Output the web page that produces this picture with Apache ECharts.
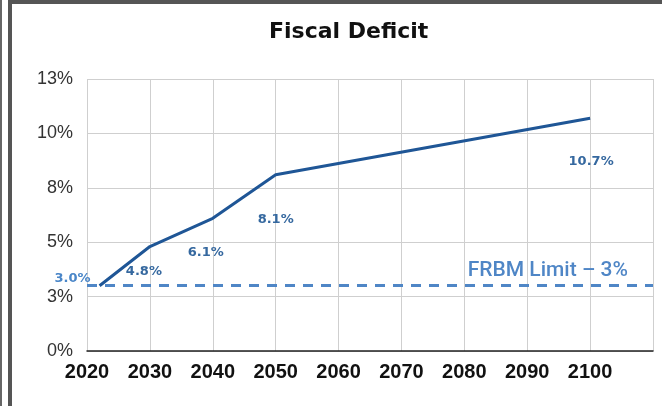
<!DOCTYPE html>
<html>
<head>
<meta charset="utf-8">
<script src="https://cdn.jsdelivr.net/npm/echarts@6/dist/echarts.min.js"></script>
<style>
  body { margin: 0; background: #fff; }
  #chart { width: 662px; height: 406px; }
</style>
</head>
<body>
<div id="chart"></div>
<script>
  // data
  const years = [2022, 2030, 2040, 2050, 2100];
  const deficit = [3.0, 4.8, 6.1, 8.1, 10.7];
  const frbmLimit = 3;
  const xTicks = [2020, 2030, 2040, 2050, 2060, 2070, 2080, 2090, 2100];

  // where each data label sits relative to its point
  const labelPlace = [
    { position: 'left', distance: 8, offset: [0, -7], color: '#4a86c8' },
    { position: 'bottom', distance: 18, offset: [-6, 0] },
    { position: 'bottom', distance: 27, offset: [-7, 0] },
    { position: 'bottom', distance: 37, offset: [0, 0] },
    { position: 'bottom', distance: 36, offset: [1, 0] }
  ];

  const chart = echarts.init(document.getElementById('chart'));

  const option = {
    animation: false,
    title: {
      text: 'Fiscal Deficit',
      left: 264,
      top: 16,
      textStyle: { fontFamily: 'DejaVu Sans', fontWeight: 'bold', fontSize: 22, color: '#111' }
    },
    grid: { left: 87, right: 9, top: 79, bottom: 55, containLabel: false },
    xAxis: {
      type: 'value',
      min: 2020,
      max: 2110,
      interval: 10,
      axisLine: { show: true, onZero: false, lineStyle: { color: '#222', width: 1.5 } },
      axisTick: { show: false },
      splitLine: { show: true, lineStyle: { color: '#cfcfcf', width: 1 } },
      axisLabel: {
        margin: 11,
        color: '#111',
        fontFamily: 'Liberation Sans, Arial',
        fontWeight: 'bold',
        fontSize: 20,
        formatter: v => xTicks.includes(v) ? String(v) : ''
      }
    },
    yAxis: {
      type: 'value',
      min: 0,
      max: 12.5,
      interval: 2.5,
      axisLine: { show: false },
      axisTick: { show: false },
      splitLine: { show: true, lineStyle: { color: '#cfcfcf', width: 1 } },
      axisLabel: {
        margin: 14,
        color: '#333',
        fontFamily: 'Liberation Sans, Arial',
        fontSize: 18,
        formatter: v => Math.round(v) + '%'
      }
    },
    series: [
      {
        type: 'line',
        data: years.map((y, i) => ({
          value: [y, deficit[i]],
          label: labelPlace[i]
        })),
        symbol: 'circle',
        symbolSize: 2,
        showSymbol: true,
        itemStyle: { color: 'rgba(0,0,0,0)', borderWidth: 0 },
        lineStyle: { color: '#1f5696', width: 3 },
        label: {
          show: true,
          formatter: p => p.value[1].toFixed(1) + '%',
          color: '#35689f',
          fontFamily: 'DejaVu Sans',
          fontWeight: 'bold',
          fontSize: 13
        },
        markLine: {
          silent: true,
          symbol: 'none',
          data: [{ yAxis: frbmLimit }],
          lineStyle: { type: [10, 8], color: '#4f86c6', width: 3 },
          label: {
            show: true,
            position: 'insideEndTop',
            formatter: 'FRBM Limit \u2013 ' + frbmLimit + '%',
            color: '#4f86c6',
            fontFamily: 'Roboto',
            fontWeight: 500,
            fontSize: 21,
            distance: [25, 4]
          }
        }
      }
    ],
    graphic: [
      { type: 'rect', shape: { x: 0, y: 0, width: 2, height: 406 }, style: { fill: '#666' } },
      { type: 'rect', shape: { x: 8, y: 0, width: 4, height: 406 }, style: { fill: '#555' } },
      { type: 'rect', shape: { x: 8, y: 0, width: 654, height: 4 }, style: { fill: '#555' } }
    ]
  };

  chart.setOption(option);
</script>
</body>
</html>
